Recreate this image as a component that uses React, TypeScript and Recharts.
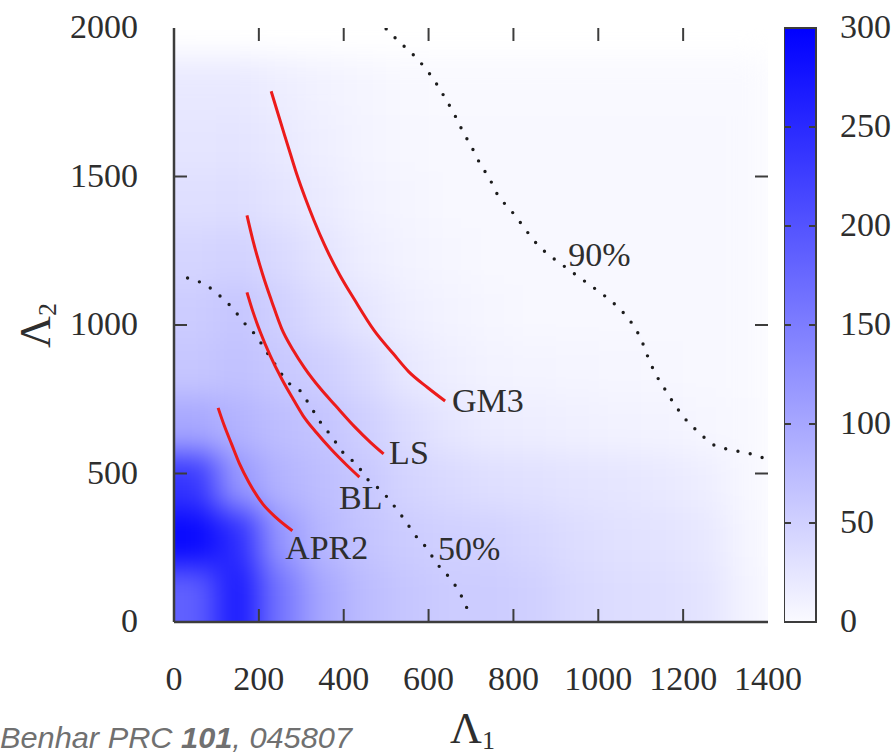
import React from 'react';
import { ComposedChart, BarChart, Bar, Scatter, Line, XAxis, YAxis } from 'recharts';

// density grid: cell centres in Λ1 (columns) and Λ2 (rows, bottom to top)
const heatX = [50, 150, 250, 350, 450, 550, 650, 750, 850, 950, 1050, 1150, 1250, 1350];
const heatY = [95, 285, 475, 665, 855, 1045, 1235, 1425, 1615, 1805];
const heatZ = [
  [185, 270, 160, 100, 75, 62, 55, 55, 50, 40, 35, 32, 26, 8],
  [290, 245, 120, 80, 65, 55, 50, 48, 42, 35, 30, 28, 22, 6],
  [235, 120, 85, 72, 60, 46, 38, 33, 30, 27, 24, 20, 14, 4],
  [100, 85, 72, 65, 52, 36, 24, 17, 14, 12, 10, 8, 5, 2],
  [62, 68, 60, 52, 38, 22, 13, 9, 7, 6, 5, 4, 3, 1],
  [55, 62, 50, 36, 24, 13, 8, 5, 3, 3, 2, 2, 2, 1],
  [45, 48, 38, 26, 15, 9, 5, 3, 2, 2, 2, 2, 2, 1],
  [32, 34, 27, 18, 10, 6, 3, 2, 2, 2, 2, 2, 2, 1],
  [25, 26, 20, 13, 7, 4, 2, 2, 2, 2, 2, 2, 2, 1],
  [20, 20, 15, 10, 6, 3, 1, 1, 1, 1, 1, 1, 1, 1],
];

// tidal deformabilities (Λ1, Λ2) predicted by each EOS
const gm3 = [[229, 1787], [245, 1712], [260, 1642], [275, 1573], [290, 1505], [310, 1425], [330, 1352], [354, 1272], [390, 1170], [426, 1084], [472, 981], [517, 903], [553, 843], [599, 788], [639, 744]];
const ls = [[172, 1369], [186, 1285], [209, 1170], [231, 1077], [254, 987], [281, 915], [308, 855], [345, 786], [381, 728], [426, 657], [463, 605], [494, 566]];
const bl = [[172, 1110], [186, 1045], [204, 974], [227, 896], [254, 818], [281, 750], [304, 695], [336, 637], [372, 579], [408, 527], [437, 488]];
const apr2 = [[104, 721], [118, 663], [136, 598], [154, 534], [177, 469], [209, 398], [240, 352], [279, 307]];

// credible-region contours
const contour50 = [[32, 1158], [73, 1136], [109, 1097], [136, 1060], [165, 1008], [195, 961], [218, 910], [242, 860], [267, 809], [297, 779], [322, 725], [346, 671], [372, 624], [397, 573], [431, 529], [458, 478], [490, 440], [517, 394], [544, 343], [568, 293], [596, 248], [619, 198], [647, 153], [674, 97], [694, 35]];
const contour90 = [[500, 1997], [532, 1952], [562, 1913], [617, 1816], [639, 1764], [662, 1706], [680, 1654], [703, 1595], [721, 1544], [744, 1492], [762, 1440], [793, 1388], [821, 1336], [848, 1285], [875, 1246], [911, 1207], [948, 1168], [979, 1136], [1016, 1097], [1052, 1052], [1079, 1006], [1102, 948], [1116, 896], [1134, 838], [1156, 786], [1179, 734], [1206, 682], [1238, 637], [1270, 598], [1315, 579], [1360, 566], [1396, 549]];

const xTicks = [0, 200, 400, 600, 800, 1000, 1200, 1400];
const yTicks = [0, 500, 1000, 1500, 2000];
const cbTicks = [0, 50, 100, 150, 200, 250, 300];
const cbRange = [{ name: 'scale', top: 300 }];

// text annotations (start of text, baseline) in data coordinates
const annotations = [
  { x: 655, y: 707, text: 'GM3' },
  { x: 507, y: 532, text: 'LS' },
  { x: 389, y: 380, text: 'BL' },
  { x: 262, y: 212, text: 'APR2' },
  { x: 622, y: 209, text: '50%' },
  { x: 929, y: 1199, text: '90%' },
];

const W = 896;
const H = 756;
const M = { top: 28, right: 128, bottom: 0, left: 0 };
const Y_AXIS_W = 174;
const X_AXIS_H = 134;
const PLOT_W = W - M.left - M.right - Y_AXIS_W;
const PLOT_H = H - M.top - M.bottom - X_AXIS_H;
const X_MAX = 1400;
const Y_MAX = 2000;
const CB_MAX = 300;
const CELL_DX = 100;
const CELL_DY = 190;

const toPts = (arr: number[][]) => arr.map(([x, y]) => ({ x, y }));
const heatCells = heatY.flatMap((y, r) => heatX.map((x, c) => ({ x, y, v: heatZ[r][c] })));

// inward tick marks on all four sides of the frame
const innerX = xTicks.filter((t) => t > 0 && t < X_MAX);
const innerY = yTicks.filter((t) => t > 0 && t < Y_MAX);
const bottomMarks = innerX.map((x) => ({ x, y: 0 }));
const topMarks = innerX.map((x) => ({ x, y: Y_MAX }));
const leftMarks = innerY.map((y) => ({ x: 0, y }));
const rightMarks = innerY.map((y) => ({ x: X_MAX, y }));

const FRAME = '#3c3c3c';
const INK = '#2e2e2e';
const RED = '#ec1b1b';
const TICK = 13;
const serif = "'Liberation Serif', 'Times New Roman', serif";

const shade = (v: number) => {
  const t = Math.min(Math.max(v, 0), CB_MAX) / CB_MAX;
  const c = Math.round(250 * (1 - t));
  return `rgb(${c},${c},255)`;
};

const HeatCell = (props: any) => {
  const { cx, cy, payload } = props;
  const w = (CELL_DX * PLOT_W) / X_MAX;
  const h = (CELL_DY * PLOT_H) / Y_MAX;
  let x0 = cx - w / 2;
  let ww = w + 1;
  let hh = h + 1;
  // push edge cells past the axes so the blur does not fade along the frame
  if (payload.x === heatX[0]) { x0 -= 40; ww += 40; }
  if (payload.y === heatY[0]) { hh += 40; }
  return <rect x={x0} y={cy - h / 2} width={ww} height={hh} fill={shade(payload.v)} />;
};

const mark = (dx: number, dy: number) => (props: any) => (
  <line x1={props.cx} y1={props.cy} x2={props.cx + dx} y2={props.cy + dy} stroke={FRAME} strokeWidth={2} />
);

const Annotation = (props: any) => (
  <text x={props.cx} y={props.cy} fontFamily={serif} fontSize={34} fill={INK}>
    {props.payload.text}
  </text>
);

const BottomLabel = ({ x, y, payload }: any) => (
  <text x={x} y={y + 68} textAnchor="middle" fontFamily={serif} fontSize={34} fill={INK}>
    {payload.value}
  </text>
);

const LeftLabel = ({ x, y, payload }: any) => (
  <text x={x - 36} y={y + 10} textAnchor="end" fontFamily={serif} fontSize={34} fill={INK}>
    {payload.value}
  </text>
);

const ColorbarLabel = ({ x, y, payload }: any) => (
  <text x={x + 24} y={y + 10} fontFamily={serif} fontSize={34} fill={INK}>
    {payload.value}
  </text>
);

// colour bar body: gradient box with short inward ticks on both sides
const ColorbarBody = (props: any) => {
  const { x, y, width, height } = props;
  const inner = cbTicks.filter((t) => t > 0 && t < CB_MAX);
  return (
    <g>
      <rect x={x} y={y} width={width} height={height} fill="url(#cbGrad)" stroke={FRAME} strokeWidth={2} />
      {inner.map((t) => {
        const ty = y + height * (1 - t / CB_MAX);
        return (
          <g key={t}>
            <line x1={x} x2={x + 7} y1={ty} y2={ty} stroke={FRAME} strokeWidth={2} />
            <line x1={x + width - 7} x2={x + width} y1={ty} y2={ty} stroke={FRAME} strokeWidth={2} />
          </g>
        );
      })}
    </g>
  );
};

const LambdaOneTitle = ({ viewBox }: any) => (
  <text x={viewBox.x + viewBox.width / 2 - 21} y={viewBox.y + 121} fontFamily={serif} fontSize={44} fill={INK}>
    Λ<tspan fontSize={26} dy={6}>1</tspan>
  </text>
);

const LambdaTwoTitle = ({ viewBox }: any) => {
  const tx = viewBox.x + 50;
  const ty = viewBox.y + viewBox.height / 2 + 23;
  return (
    <text x={tx} y={ty} transform={`rotate(-90 ${tx} ${ty})`} fontFamily={serif} fontSize={44} fill={INK}>
      Λ<tspan fontSize={26} dy={6}>2</tspan>
    </text>
  );
};

export default function App() {
  const axisLine = { stroke: FRAME, strokeWidth: 2.5 };
  const layer: React.CSSProperties = { position: 'absolute', left: 0, top: 0 };
  return (
    <div style={{ position: 'relative', width: W, height: H, overflow: 'hidden', background: '#fff' }}>
      <style>{`body{margin:0} .heat-layer{filter:url(#heatBlur)}`}</style>
      <svg width={0} height={0} style={{ position: 'absolute' }}>
        <defs>
          <filter id="heatBlur" x="-10%" y="-10%" width="120%" height="120%" colorInterpolationFilters="sRGB">
            <feGaussianBlur stdDeviation={15} />
          </filter>
          <linearGradient id="cbGrad" x1="0" y1="1" x2="0" y2="0">
            <stop offset="0%" stopColor={shade(0)} />
            <stop offset="100%" stopColor={shade(CB_MAX)} />
          </linearGradient>
        </defs>
      </svg>

      {/* density map, underneath the frame and curves */}
      <div style={layer}>
        <ComposedChart width={W} height={H}
          margin={{ top: M.top, right: M.right, bottom: X_AXIS_H, left: Y_AXIS_W }}>
          <XAxis type="number" dataKey="x" domain={[0, X_MAX]} allowDataOverflow hide />
          <YAxis type="number" dataKey="y" domain={[0, Y_MAX]} allowDataOverflow hide />
          <Scatter data={heatCells} shape={<HeatCell />} className="heat-layer" isAnimationActive={false} />
        </ComposedChart>
      </div>

      <div style={layer}>
        <ComposedChart width={W} height={H} margin={M}>
          <XAxis
            type="number" dataKey="x" domain={[0, X_MAX]} ticks={xTicks} interval={0}
            allowDataOverflow height={X_AXIS_H} tickSize={0} tickMargin={0} tickLine={false}
            axisLine={axisLine} tick={<BottomLabel />} label={<LambdaOneTitle />}
          />
          <XAxis
            xAxisId="top" orientation="top" type="number" domain={[0, X_MAX]}
            height={0} tickLine={false} tick={false} axisLine={axisLine}
          />
          <YAxis
            type="number" dataKey="y" domain={[0, Y_MAX]} ticks={yTicks} interval={0}
            allowDataOverflow width={Y_AXIS_W} tickSize={0} tickMargin={0} tickLine={false}
            axisLine={axisLine} tick={<LeftLabel />} label={<LambdaTwoTitle />}
          />
          <YAxis
            yAxisId="right" orientation="right" type="number" domain={[0, Y_MAX]}
            width={0} tickLine={false} tick={false} axisLine={axisLine}
          />

          <Line data={toPts(contour50)} dataKey="y" type="monotone" dot={false} stroke="#1c1c1c"
            strokeWidth={3.4} strokeDasharray="0 12.5" strokeLinecap="round" isAnimationActive={false} />
          <Line data={toPts(contour90)} dataKey="y" type="monotone" dot={false} stroke="#1c1c1c"
            strokeWidth={3.4} strokeDasharray="0 12.5" strokeLinecap="round" isAnimationActive={false} />

          {[gm3, ls, bl, apr2].map((eos, i) => (
            <Line key={i} data={toPts(eos)} dataKey="y" type="monotone" dot={false}
              stroke={RED} strokeWidth={3} isAnimationActive={false} />
          ))}

          <Scatter data={bottomMarks} shape={mark(0, -TICK)} isAnimationActive={false} />
          <Scatter data={topMarks} shape={mark(0, TICK)} isAnimationActive={false} />
          <Scatter data={leftMarks} shape={mark(TICK, 0)} isAnimationActive={false} />
          <Scatter data={rightMarks} shape={mark(-TICK, 0)} isAnimationActive={false} />

          <Scatter data={annotations} shape={<Annotation />} isAnimationActive={false} />
        </ComposedChart>
      </div>

      {/* colour scale */}
      <div style={{ position: 'absolute', left: 784, top: 0 }}>
        <BarChart width={112} height={H} data={cbRange} barCategoryGap={0}
          margin={{ top: M.top, right: 0, bottom: X_AXIS_H, left: 0 }}>
          <XAxis dataKey="name" hide />
          <YAxis
            orientation="right" type="number" domain={[0, CB_MAX]} ticks={cbTicks} interval={0}
            width={112 - 32} tickSize={0} tickMargin={0} tickLine={false} axisLine={false}
            tick={<ColorbarLabel />}
          />
          <Bar dataKey="top" shape={<ColorbarBody />} isAnimationActive={false} />
        </BarChart>
      </div>

      <svg width={W} height={H} style={{ position: 'absolute', left: 0, top: 0, pointerEvents: 'none' }}>
        <text x={0} y={748} fontFamily="'Liberation Sans', Arial, sans-serif" fontStyle="italic"
          fontSize={30} fill="#707070" textLength={352} lengthAdjust="spacingAndGlyphs">
          Benhar PRC <tspan fontWeight="bold">101</tspan>, 045807
        </text>
      </svg>
    </div>
  );
}
